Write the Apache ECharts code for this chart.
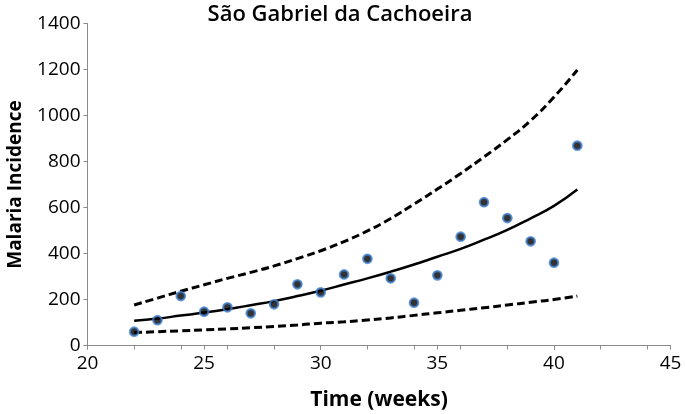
<!DOCTYPE html>
<html>
<head>
<meta charset="utf-8">
<script src="https://cdn.jsdelivr.net/npm/echarts@6/dist/echarts.min.js"></script>
<style>html,body{margin:0;padding:0;background:#fff}#c{width:685px;height:414px}</style>
</head>
<body>
<div id="c"></div>
<script>
const titleText = "São Gabriel da Cachoeira";
const xName = "Time (weeks)";
const yName = "Malaria Incidence";
const weeks = [22,23,24,25,26,27,28,29,30,31,32,33,34,35,36,37,38,39,40,41];
const observed = [60,110,215,147,166,140,179,266,231,309,377,292,186,305,473,623,554,453,360,869];
const fitted = [108,117,130,143,158,175,193,215,238,265,292,321,352,386,420,460,503,553,607,678];
const upperBound = [176,206,236,264,292,318,346,378,412,452,498,552,615,680,748,820,895,978,1080,1198];
const lowerBound = [56,60,64,68,72,77,83,89,97,103,111,120,131,142,153,164,176,188,200,215];
const xTicksLabeled = [20,25,30,35,40,45];
const yTicks = [0,200,400,600,800,1000,1200,1400];

const pairs = arr => weeks.map((w,i)=>[w,arr[i]]);
const axisGray = '#8a8a8a';
const fontFam = '"Open Sans", "Liberation Sans", sans-serif';

const chart = echarts.init(document.getElementById('c'));
chart.setOption({
  animation:false,
  backgroundColor:'#fff',
  title:{text:titleText,left:335,top:-1,textAlign:'center',
    textStyle:{fontFamily:fontFam,fontSize:22,fontWeight:600,color:'#000'}},
  grid:{left:87.5,right:14.4,top:23.5,bottom:68.5,containLabel:false,outerBoundsMode:'none'},
  xAxis:[{
    type:'value',min:xTicksLabeled[0],max:xTicksLabeled[xTicksLabeled.length-1],interval:5,
    name:xName,nameLocation:'middle',nameGap:44,
    nameTextStyle:{fontFamily:fontFam,fontSize:21,fontWeight:'bold',color:'#000'},
    axisLine:{lineStyle:{color:axisGray,width:1}},
    axisTick:{show:true,length:4,lineStyle:{color:axisGray}},
    axisLabel:{fontFamily:fontFam,fontSize:19,color:'#000',margin:9},
    splitLine:{show:false}
  },{
    type:'value',min:20,max:45,interval:2,position:'bottom',
    axisLine:{show:false},
    axisTick:{show:true,length:4,lineStyle:{color:axisGray}},
    axisLabel:{show:false},splitLine:{show:false}
  }],
  yAxis:{
    type:'value',min:yTicks[0],max:yTicks[yTicks.length-1],interval:200,
    name:yName,nameLocation:'middle',nameGap:62,
    nameTextStyle:{fontFamily:fontFam,fontSize:19,fontWeight:'bold',color:'#000'},
    axisLine:{show:true,lineStyle:{color:axisGray,width:1}},
    axisTick:{show:true,length:4,lineStyle:{color:axisGray}},
    axisLabel:{fontFamily:fontFam,fontSize:19,color:'#000',margin:7,formatter:v=>String(v)},
    splitLine:{show:false}
  },
  series:[
    {type:'line',data:pairs(upperBound),smooth:true,symbol:'none',
      lineStyle:{color:'#000',width:3,type:[8,4]}},
    {type:'line',data:pairs(lowerBound),smooth:true,symbol:'none',
      lineStyle:{color:'#000',width:3,type:[8,4]}},
    {type:'line',data:pairs(fitted),smooth:true,symbol:'none',
      lineStyle:{color:'#000',width:2.5}},
    {type:'scatter',data:pairs(observed),symbol:'circle',symbolSize:8.5,
      itemStyle:{color:'#000',borderColor:'#3f7fd0',borderWidth:2.2},z:5}
  ]
});
</script>
</body>
</html>
